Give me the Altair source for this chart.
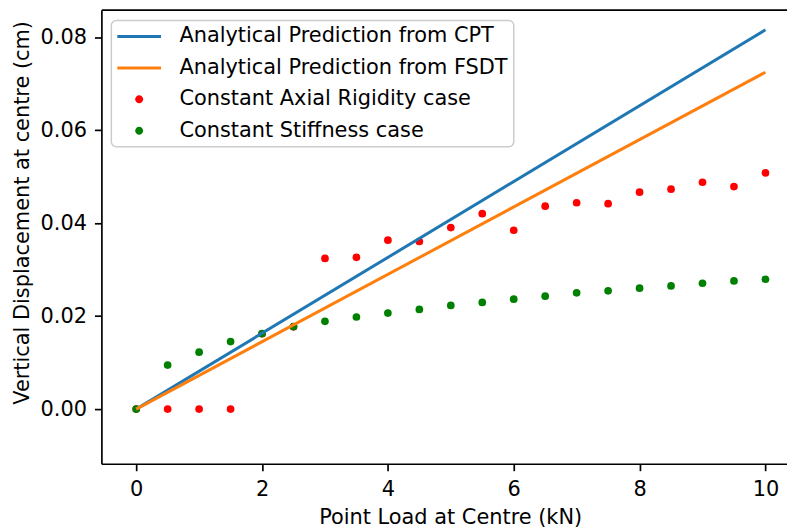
import altair as alt
import pandas as pd

# ---- data ----
load = [0, 0.5, 1, 1.5, 2, 2.5, 3, 3.5, 4, 4.5, 5, 5.5, 6, 6.5, 7, 7.5, 8, 8.5, 9, 9.5, 10]
axial = [0.0, 0.0, 0.0, 0.0, 0.0162, 0.0177, 0.03241, 0.03263, 0.03632, 0.03604, 0.03904,
         0.04203, 0.03846, 0.04365, 0.04438, 0.04417, 0.04665, 0.04729, 0.04878, 0.04786, 0.05079]
stiff = [0.0, 0.00947, 0.01224, 0.01453, 0.01624, 0.01774, 0.01887, 0.01981, 0.02066, 0.02143,
         0.02229, 0.02295, 0.02365, 0.02429, 0.02500, 0.02543, 0.02600, 0.02650, 0.02707,
         0.02756, 0.02793]
line_load = [0, 10]
cpt = [0.0, 0.08156]
fsdt = [0.0, 0.07244]

series_names = ["Analytical Prediction from CPT", "Analytical Prediction from FSDT",
                "Constant Axial Rigidity case", "Constant Stiffness case"]
series_colors = ["#1f77b4", "#ff7f0e", "#ff0000", "#008000"]
x_ticks = [0, 2, 4, 6, 8, 10]
y_ticks = [0.0, 0.02, 0.04, 0.06, 0.08]

# ---- tables ----
scatter_df = pd.concat([
    pd.DataFrame({"load": load, "disp": axial, "series": series_names[2], "color": series_colors[2]}),
    pd.DataFrame({"load": load, "disp": stiff, "series": series_names[3], "color": series_colors[3]}),
], ignore_index=True)
lines_df = pd.concat([
    pd.DataFrame({"load": line_load, "disp": cpt, "series": series_names[0], "color": series_colors[0]}),
    pd.DataFrame({"load": line_load, "disp": fsdt, "series": series_names[1], "color": series_colors[1]}),
], ignore_index=True)
legend_df = pd.DataFrame({"series": series_names, "load": [0] * 4})

FONT = "DejaVu Sans"
FS = 21

xscale = alt.Scale(domain=[-0.553, 10.343], nice=False, zero=False)
yscale = alt.Scale(domain=[-0.01175, 0.0859], nice=False, zero=False)

xaxis = alt.Axis(values=x_ticks, format="d", title="Point Load at Centre (kN)", grid=False,
                 titleX=351, titleY=60, titleBaseline="alphabetic", titleAlign="center")
yaxis = alt.Axis(values=y_ticks, format=".2f", title="Vertical Displacement at centre (cm)",
                 grid=False, titleX=-73, titleY=204, titleAngle=270,
                 titleBaseline="alphabetic", titleAlign="center")
top_axis = alt.Axis(orient="top", labels=False, ticks=False, title=None, grid=False, domain=True)

line_path = "M-2.5,-0.375H8.5V0.375H-2.5Z"
dot_path = "M4,0A1,1,0,1,1,2,0A1,1,0,1,1,4,0Z"

scatter = alt.Chart(scatter_df).mark_circle(size=60, opacity=1).encode(
    x=alt.X("load:Q", scale=xscale, axis=None),
    y=alt.Y("disp:Q", scale=yscale, axis=yaxis),
    color=alt.Color("color:N", scale=None),
    detail="series:N",
)

lines = alt.Chart(lines_df).mark_line(strokeWidth=3).encode(
    x=alt.X("load:Q", scale=xscale, axis=xaxis),
    y=alt.Y("disp:Q", scale=yscale, axis=yaxis),
    color=alt.Color("color:N", scale=None),
    detail="series:N",
)

leg = alt.Legend(title=None, orient="none", legendX=10, legendY=11)
legend_layer = alt.Chart(legend_df).transform_filter("false").mark_point(filled=True, size=64).encode(
    x=alt.X("load:Q", scale=xscale, axis=top_axis),
    color=alt.Color("series:N", scale=alt.Scale(domain=series_names, range=series_colors), legend=leg),
    shape=alt.Shape("series:N", scale=alt.Scale(domain=series_names,
                                                range=[line_path, line_path, dot_path, dot_path]),
                    legend=leg),
)

chart = alt.layer(scatter, lines, legend_layer).resolve_axis(x="independent").properties(
    width=690, height=457,
    padding={"left": 94, "top": 0, "right": 0, "bottom": 64},
    autosize=alt.AutoSizeParams(type="none"),
).configure(font=FONT).configure_view(stroke=None).configure_axis(
    labelFontSize=FS, labelColor="black", labelFont=FONT,
    titleFontSize=FS, titleFontWeight="normal", titleColor="black", titleFont=FONT,
    tickColor="black", domainColor="black", tickWidth=1.7, domainWidth=1.7,
    tickSize=7, labelPadding=8,
).configure_legend(
    labelFontSize=FS, labelColor="black", labelFont=FONT, labelLimit=1000,
    symbolSize=64, symbolStrokeWidth=0, labelOffset=42, padding=5.5, rowPadding=9.6,
    strokeColor="#cccccc", fillColor="white", cornerRadius=5, strokeWidth=1.5,
)

chart.save("out.html", embed_options={"renderer": "svg", "actions": False})
